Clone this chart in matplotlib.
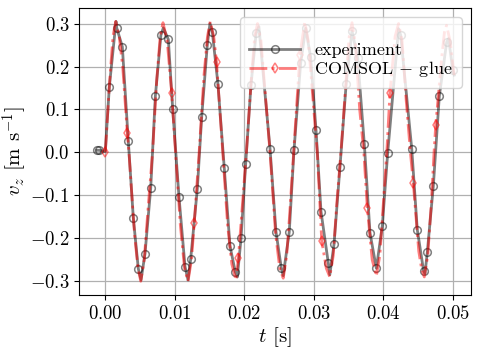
import matplotlib
matplotlib.use("Agg")
import matplotlib.pyplot as plt
import numpy as np

plt.rcParams['font.family'] = 'serif'
plt.rcParams['font.serif'] = ['cmr10', 'DejaVu Serif']
plt.rcParams['mathtext.fontset'] = 'cm'
plt.rcParams['axes.formatter.use_mathtext'] = True
plt.rcParams['axes.unicode_minus'] = True

# experiment data (t [s], v [m/s]); exp_mark = drawn with a circle marker
exp_t = [-0.0012, -0.0009, 0.0000, 0.00058, 0.00154, 0.00164, 0.00245, 0.00331,
         0.00403, 0.00475, 0.00514, 0.00571, 0.00653, 0.0072, 0.0080, 0.00835,
         0.00907, 0.0097, 0.0106, 0.01147, 0.0119, 0.01228, 0.01324, 0.01387,
         0.01468, 0.01506, 0.0154, 0.0162, 0.01712, 0.01794, 0.0187, 0.0190,
         0.01953, 0.0202, 0.02096, 0.0217, 0.0221, 0.0237, 0.02456, 0.02533,
         0.0256, 0.02647, 0.02715, 0.02811, 0.02883, 0.02955, 0.03032, 0.03104,
         0.03209, 0.0323, 0.03291, 0.03377, 0.03466, 0.0355, 0.03632, 0.03727,
         0.03809, 0.0390, 0.03986, 0.04063, 0.0422, 0.0425, 0.04409, 0.04489,
         0.0458, 0.0460, 0.04633, 0.0472, 0.04806, 0.04912, 0.0494, 0.0500, 0.0502]
exp_v = [0.005, 0.005, 0.002, 0.153, 0.305, 0.290, 0.246, 0.026,
         -0.153, -0.271, -0.297, -0.236, -0.084, 0.131, 0.273, 0.290,
         0.263, 0.100, -0.103, -0.266, -0.297, -0.249, -0.085, 0.083,
         0.251, 0.300, 0.280, 0.160, -0.037, -0.218, -0.278, -0.290,
         -0.200, -0.026, 0.157, 0.277, 0.293, 0.009, -0.185, -0.270,
         -0.287, -0.185, 0.005, 0.208, 0.289, 0.221, 0.052, -0.138,
         -0.258, -0.285, -0.214, -0.033, 0.160, 0.283, 0.219, 0.019,
         -0.188, -0.270, -0.171, -0.002, 0.288, 0.273, 0.009, -0.180,
         -0.276, -0.282, -0.233, -0.078, 0.131, 0.257, 0.265, 0.191, 0.180]
exp_mark = [1, 1, 0, 1, 0, 1, 1, 1,
            1, 1, 0, 1, 1, 1, 1, 0,
            1, 1, 1, 1, 0, 1, 1, 1,
            1, 0, 1, 1, 1, 1, 1, 0,
            1, 1, 1, 1, 0, 1, 1, 1,
            0, 1, 1, 1, 1, 1, 1, 1,
            1, 0, 1, 1, 1, 1, 1, 1,
            1, 1, 1, 1, 0, 1, 1, 1,
            1, 0, 1, 1, 1, 1, 0, 1, 0]

# COMSOL simulation (t [s], v [m/s]); sim_mark = drawn with a diamond marker
sim_t = [0.0000, 0.0006, 0.0011, 0.0015, 0.0020, 0.0025, 0.00317, 0.0034,
         0.0042, 0.0047, 0.0051, 0.0056, 0.0062, 0.0068, 0.0074, 0.0079,
         0.0083, 0.0089, 0.00955, 0.0101, 0.0108, 0.0114, 0.0119, 0.0124,
         0.0128, 0.0135, 0.0142, 0.0147, 0.0151, 0.0156, 0.0160, 0.0169,
         0.0176, 0.0182, 0.0188, 0.01914, 0.0203, 0.0210, 0.0215, 0.0219,
         0.0224, 0.0230, 0.0237, 0.0245, 0.0251, 0.0256, 0.0261, 0.0265,
         0.0271, 0.0280, 0.0287, 0.0292, 0.0298, 0.0305, 0.03114, 0.0318,
         0.0323, 0.0328, 0.0333, 0.0339, 0.0347, 0.0351, 0.0355, 0.0360,
         0.0366, 0.0372, 0.0377, 0.0384, 0.0390, 0.0395, 0.0400, 0.0405,
         0.04096, 0.0417, 0.0422, 0.0427, 0.0433, 0.0439, 0.04432, 0.0451,
         0.0455, 0.0459, 0.0464, 0.0469, 0.0473, 0.04754, 0.0484, 0.0488,
         0.0491, 0.0496, 0.0502]
sim_v = [0.000, 0.160, 0.270, 0.305, 0.270, 0.200, 0.044, 0.000,
         -0.190, -0.270, -0.300, -0.250, -0.120, 0.000, 0.170, 0.270,
         0.302, 0.260, 0.139, 0.000, -0.170, -0.270, -0.300, -0.250,
         -0.164, 0.000, 0.180, 0.270, 0.305, 0.270, 0.211, 0.000,
         -0.170, -0.260, -0.297, -0.247, 0.000, 0.170, 0.270, 0.300,
         0.260, 0.140, 0.000, -0.190, -0.270, -0.293, -0.240, -0.150,
         0.000, 0.226, 0.304, 0.260, 0.140, 0.000, -0.206, -0.270,
         -0.290, -0.240, -0.120, 0.000, 0.180, 0.270, 0.302, 0.250,
         0.100, 0.000, -0.130, -0.250, -0.288, -0.240, -0.120, 0.000,
         0.139, 0.270, 0.300, 0.260, 0.120, 0.000, -0.072, -0.230,
         -0.270, -0.290, -0.240, -0.120, 0.000, 0.063, 0.220, 0.280,
         0.296, 0.260, 0.180]
sim_mark = [1, 0, 0, 0, 0, 0, 1, 0,
            0, 0, 0, 0, 0, 0, 0, 0,
            0, 0, 1, 0, 0, 0, 0, 0,
            1, 0, 0, 0, 0, 0, 1, 0,
            0, 0, 0, 1, 0, 0, 0, 0,
            0, 0, 0, 0, 0, 0, 0, 0,
            0, 1, 0, 0, 0, 0, 1, 0,
            0, 0, 0, 0, 0, 0, 0, 0,
            0, 0, 1, 0, 0, 0, 0, 0,
            1, 0, 0, 0, 0, 0, 1, 0,
            0, 0, 0, 0, 0, 1, 0, 0,
            0, 0, 0]

x_ticks = [0.00, 0.01, 0.02, 0.03, 0.04, 0.05]
y_ticks = [-0.3, -0.2, -0.1, 0.0, 0.1, 0.2, 0.3]

fig = plt.figure(figsize=(4.79, 3.52), dpi=100)
ax = fig.add_axes([0.1656, 0.162, 0.8177, 0.815])

ax.plot(exp_t, exp_v, '-', color='k', alpha=0.5, lw=2, marker='o', ms=5.5,
        mfc='none', mec='k', mew=1.1, markevery=np.array(exp_mark, bool),
        label='experiment')
ax.plot(sim_t, sim_v, '-.', color='r', alpha=0.5, lw=2, marker='d', ms=5,
        mfc='none', mec='r', mew=1.1, markevery=np.array(sim_mark, bool),
        label='COMSOL $-$ glue')

ax.set_xlim(-0.00374, 0.05262)
ax.set_ylim(-0.332, 0.336)
ax.set_xticks(x_ticks)
ax.set_yticks(y_ticks)
ax.xaxis.set_major_formatter(matplotlib.ticker.FormatStrFormatter('$%.2f$'))
ax.yaxis.set_major_formatter(matplotlib.ticker.FormatStrFormatter('$%.1f$'))
ax.tick_params(labelsize=13.5)
ax.grid(True, color='#b0b0b0', lw=0.9)
ax.set_xlabel('$t$ [s]', fontsize=15, labelpad=2)
ax.set_ylabel('$v_z$ [m s$^{-1}$]', fontsize=15, labelpad=1)
ax.legend(loc='upper right', fontsize=13, labelspacing=0.05, handlelength=2.8,
          handletextpad=0.8, borderpad=0.5, title=' ', title_fontsize=12.5)

fig.savefig('out.png', dpi=100)
